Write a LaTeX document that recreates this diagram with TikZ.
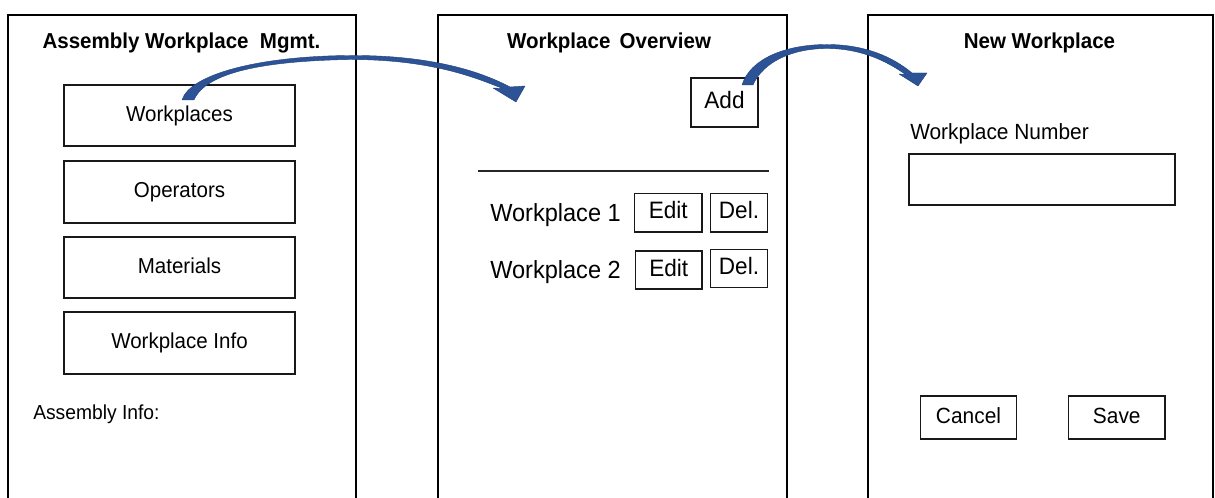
\documentclass[tikz,border=0pt]{standalone}
\usepackage{fontspec}
\setmainfont[FakeStretch=0.95]{Liberation Sans}
\usetikzlibrary{fit}
\definecolor{flowblue}{RGB}{44,83,150}
\definecolor{flowedge}{RGB}{33,64,122}
\begin{document}
\begin{tikzpicture}[x=0.75pt,y=-0.75pt,
  panel/.style={draw=black,line width=2.2pt,line join=miter},
  btn/.style={draw=black!90,line width=1.4pt,inner sep=0pt},
  lefttxt/.style={inner sep=0pt,font=\fontsize{16.2}{19}\selectfont,text height=11.8pt,text depth=3.4pt},
  midtxt/.style={inner sep=0pt,font=\fontsize{17.8}{21}\selectfont,text height=13pt,text depth=3.7pt},
  righttxt/.style={inner sep=0pt,font=\fontsize{16.5}{20}\selectfont,text height=12pt,text depth=3.5pt},
  ttl/.style={font=\fontsize{16.2}{19}\selectfont\bfseries,anchor=base,inner sep=0pt},
  plain/.style={anchor=base west,inner sep=0pt},
  flow/.style={fill=flowblue,draw=flowedge,line width=0.3pt,line join=round}]
\useasboundingbox (0,0) rectangle (1215,498);
\clip (0,0) rectangle (1215,498);
% panels
\draw[panel] (8,520) -- (8,15) -- (356,15) -- (356,520);
\draw[panel] (438,520) -- (438,15) -- (787,15) -- (787,520);
\draw[panel] (868,520) -- (868,15) -- (1213,15) -- (1213,520);
% titles
\node[ttl] (t1) at (181.5,49) {Assembly Workplace\ \ Mgmt.};
\node[ttl] (t2) at (609,49) {Workplace\ \,Overview};
\node[ttl] (t3) at (1039.5,49) {New Workplace};
% left panel
\node[btn,fit={(64,85)(295,146)}] (wp) {};
\node[lefttxt] (wpT) at (wp.center) {Workplaces};
\node[btn,fit={(64,161)(295,223)}] (op) {};
\node[lefttxt] (opT) at (op.center) {Operators};
\node[btn,fit={(64,237)(295,298)}] (mat) {};
\node[lefttxt] (matT) at (mat.center) {Materials};
\node[btn,fit={(64,312)(295,374)}] (wi) {};
\node[lefttxt] (wiT) at (wi.center) {Workplace Info};
\node[plain,font=\fontsize{15.2}{18}\selectfont] (ai) at (33,420) {Assembly Info:};
% middle panel
\node[btn,fit={(691,78)(758,127)}] (add) {};
\node[midtxt] (addT) at (add.center) {Add};
\draw[line width=1.6pt,draw=black!85] (478,171) coordinate (sepL) -- (769,171) coordinate (sepR);
\node[plain,font=\fontsize{18.6}{22}\selectfont] (w1) at (490,222) {Workplace 1};
\node[btn,fit={(634.5,193.5)(702,232)}] (e1) {};
\node[midtxt] (e1T) at (e1.center) {Edit};
\node[btn,fit={(710.5,193.5)(767.5,232)}] (d1) {};
\node[midtxt] (d1T) at (d1.center) {Del.};
\node[plain,font=\fontsize{18.6}{22}\selectfont] (w2) at (490,278.5) {Workplace 2};
\node[btn,fit={(635.5,251)(702,289)}] (e2) {};
\node[midtxt] (e2T) at (e2.center) {Edit};
\node[btn,fit={(710.5,249.5)(767.5,287.5)}] (d2) {};
\node[midtxt] (d2T) at (d2.center) {Del.};
% right panel
\node[plain,font=\fontsize{16.5}{20}\selectfont] (wn) at (910,140) {Workplace Number};
\node[btn,fit={(909,154)(1175,205)}] (field) {};
\node[btn,fit={(920.5,396)(1016.5,439)}] (cancel) {};
\node[righttxt] (cancelT) at (cancel.center) {Cancel};
\node[btn,fit={(1068.5,396)(1165,439)}] (save) {};
\node[righttxt] (saveT) at (save.center) {Save};
% flow arrows
\fill[flow] (182,100) .. controls (190,74) and (260,56) .. (350,55.5)
  .. controls (432,55) and (482,72) .. (510,87) -- (525,86) -- (516,102) -- (493,88) -- (502.5,88.5)
  .. controls (474,77) and (430,59.5) .. (350,59.5)
  .. controls (265,61) and (206,72) .. (194,100) -- cycle;
\fill[flow] (742,85) .. controls (750,59) and (785,44.5) .. (827,44.5)
  .. controls (865,44.5) and (893,57) .. (912,73) -- (927,73) -- (918,86) -- (899,74) -- (905.5,74.5)
  .. controls (888,62) and (862,48.5) .. (827,48.5)
  .. controls (792,48.5) and (763,62) .. (753,85) -- cycle;
\end{tikzpicture}
\end{document}
